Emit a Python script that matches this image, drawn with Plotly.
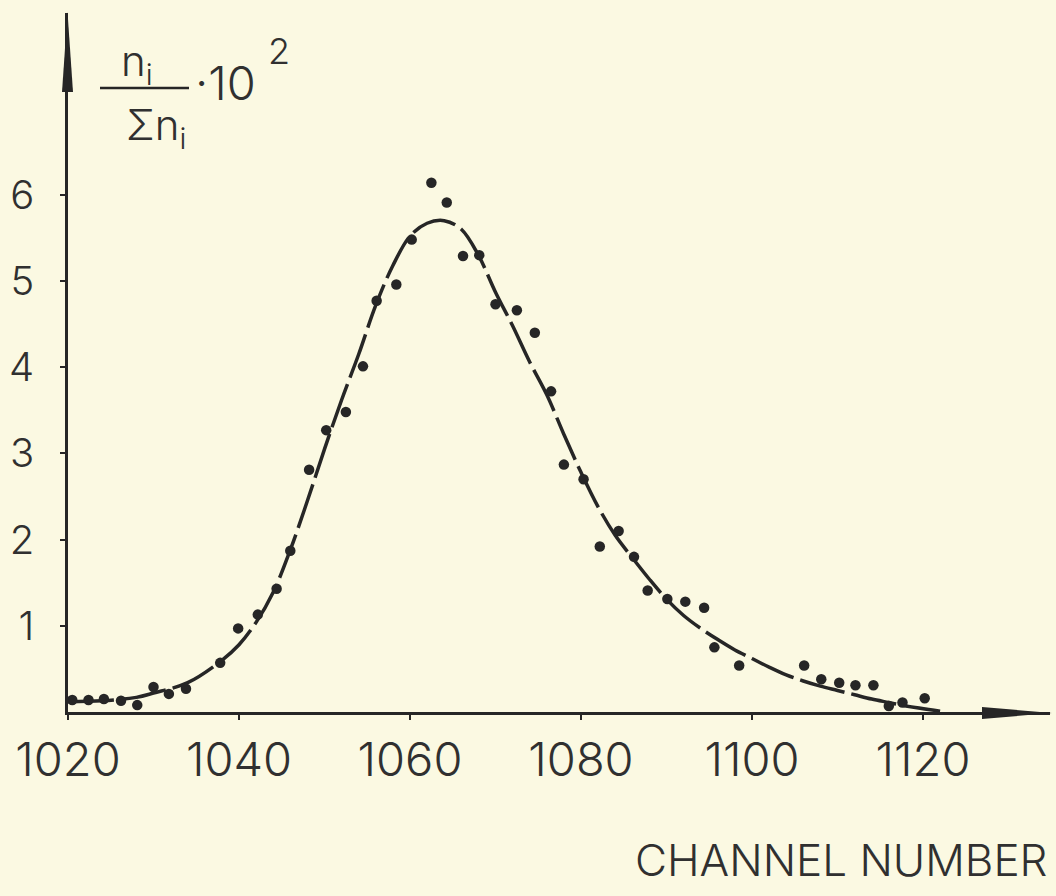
import plotly.graph_objects as go

# ---------------- data ----------------
channels = [1020.5, 1022.4, 1024.2, 1026.2, 1028.1, 1030.0, 1031.8, 1033.8, 1037.8, 1039.9,
            1042.2, 1044.4, 1046.0, 1048.2, 1050.2, 1052.5, 1054.5, 1056.1, 1058.4, 1060.2,
            1062.5, 1064.3, 1066.2, 1068.1, 1070.0, 1072.5, 1074.6, 1076.5, 1078.0, 1080.3,
            1082.2, 1084.4, 1086.2, 1087.8, 1090.1, 1092.2, 1094.4, 1095.6, 1098.5, 1106.1,
            1108.1, 1110.2, 1112.1, 1114.2, 1116.0, 1117.6, 1120.2]
fractions = [0.14, 0.14, 0.15, 0.13, 0.08, 0.29, 0.21, 0.27, 0.57, 0.97,
             1.13, 1.43, 1.87, 2.81, 3.27, 3.48, 4.01, 4.77, 4.96, 5.48,
             6.14, 5.91, 5.29, 5.30, 4.73, 4.66, 4.40, 3.72, 2.87, 2.70,
             1.92, 2.10, 1.80, 1.41, 1.31, 1.28, 1.21, 0.75, 0.54, 0.54,
             0.38, 0.34, 0.31, 0.31, 0.07, 0.11, 0.16]

fit_channels = [1020, 1024, 1028, 1030, 1034, 1038, 1040, 1042, 1044, 1046, 1048, 1050,
                1052, 1054, 1056, 1058, 1060, 1062, 1064, 1066, 1068, 1070, 1072, 1074,
                1076, 1078, 1080, 1082, 1084, 1086, 1088, 1090, 1092, 1094, 1096, 1098,
                1100, 1102, 1104, 1106, 1108, 1110, 1112, 1114, 1116, 1118, 1122]
fit_values = [0.12, 0.13, 0.17, 0.22, 0.34, 0.60, 0.78, 1.04, 1.39, 1.88, 2.45, 3.05,
              3.62, 4.15, 4.72, 5.18, 5.52, 5.67, 5.70, 5.60, 5.30, 4.87, 4.48, 4.06,
              3.68, 3.22, 2.78, 2.38, 2.05, 1.79, 1.54, 1.31, 1.12, 0.97, 0.84, 0.72,
              0.62, 0.52, 0.43, 0.36, 0.30, 0.25, 0.20, 0.15, 0.11, 0.07, 0.01]

x_ticks = [1020, 1040, 1060, 1080, 1100, 1120]
y_ticks = [1, 2, 3, 4, 5, 6]

# ---------------- layout geometry ----------------
W, H = 1056, 896
L, R, T, B = 68, 6, 13, 184
PW, PH = W - L - R, H - T - B
PX_PER_CH = 8.55
PX_PER_UNIT = 86.2
x_range = [1020, 1020 + PW / PX_PER_CH]
y_range = [0, PH / PX_PER_UNIT]

INK = "#262626"
BG = "#fbf9e2"
FONT = "Inter"
TXT = "#303030"


def px(xp):
    return (xp - L) / PW


def py(yp):
    return (H - B - yp) / PH


fig = go.Figure()
fig.add_trace(go.Scatter(x=fit_channels, y=fit_values, mode="lines",
                         line=dict(color=INK, width=3.5, dash="46px,7px", shape="spline"),
                         hoverinfo="skip", showlegend=False))
fig.add_trace(go.Scatter(x=channels, y=fractions, mode="markers",
                         marker=dict(color=INK, size=10.5), showlegend=False))

fig.update_layout(
    width=W, height=H,
    margin=dict(l=L, r=R, t=T, b=B, pad=0),
    paper_bgcolor=BG, plot_bgcolor=BG,
    showlegend=False,
    xaxis=dict(range=x_range, tickvals=x_ticks, ticktext=[str(v) for v in x_ticks],
               showgrid=False, zeroline=False, showline=True, linecolor=INK, linewidth=2.5,
               ticks="outside", ticklen=5, tickwidth=2, tickcolor=INK,
               ticklabelstandoff=0,
               tickfont=dict(family=FONT, size=47, color=TXT, weight=300)),
    yaxis=dict(range=y_range, tickvals=y_ticks, ticktext=[str(v) for v in y_ticks],
               showgrid=False, zeroline=False, showline=True, linecolor=INK, linewidth=2.5,
               ticks="outside", ticklen=5, tickwidth=2, tickcolor=INK,
               ticklabelstandoff=18,
               tickfont=dict(family=FONT, size=40, color=TXT, weight=300)),
)

# axis arrowheads
fig.add_shape(type="path", xref="paper", yref="paper", line=dict(width=0), fillcolor=INK,
              path=f"M {px(62)},{py(92)} L {px(67.5)},{py(12)} L {px(73)},{py(92)} Z")
fig.add_shape(type="path", xref="paper", yref="paper", line=dict(width=0), fillcolor=INK,
              path=f"M {px(982)},{py(707)} L {px(1052)},{py(713)} L {px(982)},{py(719)} Z")

# y-axis label: n_i / sum n_i * 10^2
tf = dict(family=FONT, size=42, color=TXT, weight=300)
fig.add_annotation(xref="paper", yref="paper", x=px(137), y=py(94), xanchor="center",
                   yanchor="bottom", text="n<sub>i</sub>", showarrow=False, font=tf)
fig.add_shape(type="line", xref="paper", yref="paper", x0=px(100), x1=px(189),
              y0=py(88), y1=py(88), line=dict(color=INK, width=2.5))
fig.add_annotation(xref="paper", yref="paper", x=px(156), y=py(97), xanchor="center",
                   yanchor="top", text="Σn<sub>i</sub>", showarrow=False, font=tf)
fig.add_annotation(xref="paper", yref="paper", x=px(193), y=py(113), xanchor="left",
                   yanchor="bottom", text="·10", showarrow=False,
                   font=dict(family=FONT, size=47, color=TXT, weight=300))
fig.add_annotation(xref="paper", yref="paper", x=px(279), y=py(51), xanchor="center",
                   yanchor="middle", text="2", showarrow=False,
                   font=dict(family=FONT, size=36, color=TXT, weight=300))

# x-axis label
fig.add_annotation(xref="paper", yref="paper", x=px(1050), y=py(889), xanchor="right",
                   yanchor="bottom", text="CHANNEL NUMBER", showarrow=False,
                   font=dict(family=FONT, size=44, color=TXT, weight=300))

fig.write_html("out.html", config={"displayModeBar": False},
               post_script="document.body.style.margin='0';document.body.style.overflow='hidden';")
